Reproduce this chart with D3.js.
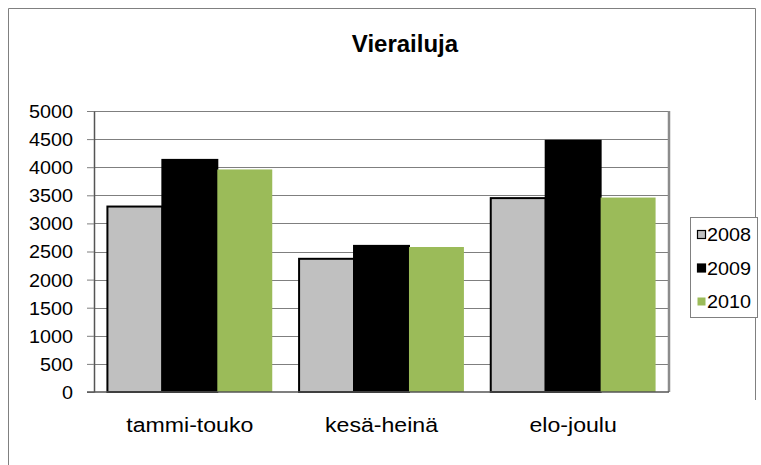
<!DOCTYPE html>
<html><head><meta charset="utf-8">
<script src="https://cdn.jsdelivr.net/npm/d3@7"></script>
<style>body{margin:0;background:#fff}svg{display:block;font-family:Arial,"Liberation Sans",sans-serif}</style>
</head><body>
<svg id="c" width="761" height="465"></svg>
<script>
const categories = ["tammi-touko", "kesä-heinä", "elo-joulu"];
const series = ["2008", "2009", "2010"];
const values2008 = [3300, 2370, 3450];
const values2009 = [4130, 2600, 4470];
const values2010 = [3960, 2580, 3460];
const yTicks = [0, 500, 1000, 1500, 2000, 2500, 3000, 3500, 4000, 4500, 5000];
const title = "Vierailuja";

const colors = {"2008": "#c0c0c0", "2009": "#000000", "2010": "#9bbb59"};
const strokes = {"2008": "#000000", "2009": "#000000", "2010": "none"};
const data = categories.map((c, i) => ({cat: c, vals: {"2008": values2008[i], "2009": values2009[i], "2010": values2010[i]}}));

const svg = d3.select("#c");
const L = 94, R = 669, T = 111, B = 392;
const SX = 1.1;

// outer border
svg.append("path").attr("d", `M8.5,465 V8.5 H755.5 V400`).attr("fill", "none").attr("stroke", "#808080").attr("stroke-width", 1);

const x = d3.scaleBand().domain(categories).range([L, R]).paddingInner(0.14).paddingOuter(0.07);
const x1 = d3.scaleBand().domain(series).range([0, x.bandwidth()]);
const y = d3.scaleLinear().domain([0, 5000]).range([B, T]);

// gridlines
svg.append("g").selectAll("line").data(yTicks.filter(t => t > 0)).join("line")
  .attr("x1", L).attr("x2", R).attr("y1", d => Math.round(y(d)) + 0.5).attr("y2", d => Math.round(y(d)) + 0.5)
  .attr("stroke", "#7f7f7f").attr("stroke-width", 1);

// right plot border
svg.append("line").attr("x1", R).attr("x2", R).attr("y1", T).attr("y2", B).attr("stroke", "#8c8c8c").attr("stroke-width", 2.5);

// bars
const g = svg.append("g").selectAll("g").data(data).join("g").attr("transform", d => `translate(${x(d.cat)},0)`);
g.selectAll("rect").data(d => series.map(s => ({s, v: d.vals[s]}))).join("rect")
  .attr("x", d => x1(d.s)).attr("width", x1.bandwidth())
  .attr("y", d => y(d.v)).attr("height", d => y(0) - y(d.v))
  .attr("fill", d => colors[d.s]).attr("stroke", d => strokes[d.s]).attr("stroke-width", 2);

// y axis
const yAxis = svg.append("g").attr("transform", `translate(${L},0)`)
  .call(d3.axisLeft(y).tickValues(yTicks).tickSize(7).tickSizeOuter(0).tickFormat(d3.format("d")));
yAxis.select(".domain").attr("stroke", "#555").attr("stroke-width", 1.5);
yAxis.selectAll(".tick line").attr("stroke", "#7f7f7f");
yAxis.selectAll(".tick text").attr("font-size", 18).attr("fill", "#000").attr("x", 0).attr("text-anchor", "end")
  .attr("dy", "0.36em")
  .attr("transform", `translate(-21,0) scale(${SX},1)`);

// baseline
svg.append("line").attr("x1", L - 7).attr("x2", R).attr("y1", B).attr("y2", B).attr("stroke", "#555").attr("stroke-width", 1.5);

// category labels
svg.append("g").selectAll("text").data(categories).join("text")
  .attr("transform", d => `translate(${x(d) + x.bandwidth() / 2},432) scale(${SX},1)`)
  .attr("text-anchor", "middle").attr("font-size", 21).attr("fill", "#000").text(d => d);

// title
svg.append("text").attr("x", 405).attr("y", 52).attr("text-anchor", "middle")
  .attr("font-size", 24).attr("font-weight", "bold").attr("fill", "#000").text(title);

// legend
const lg = svg.append("g");
lg.append("rect").attr("x", 690.5).attr("y", 217.5).attr("width", 67).attr("height", 100)
  .attr("fill", "#fff").attr("stroke", "#808080");
const ly = d3.scalePoint().domain(series).range([235, 302]);
const items = lg.selectAll("g").data(series).join("g").attr("transform", d => `translate(0,${ly(d)})`);
items.append("rect").attr("x", 697.5).attr("y", -4.5).attr("width", 8).attr("height", 8)
  .attr("fill", d => colors[d]).attr("stroke", d => strokes[d]).attr("stroke-width", 1.2);
items.append("text").attr("transform", `translate(707,0) scale(1.1,1)`).attr("dy", "0.36em")
  .attr("font-size", 18).attr("fill", "#000").text(d => d);
</script>
</body></html>
